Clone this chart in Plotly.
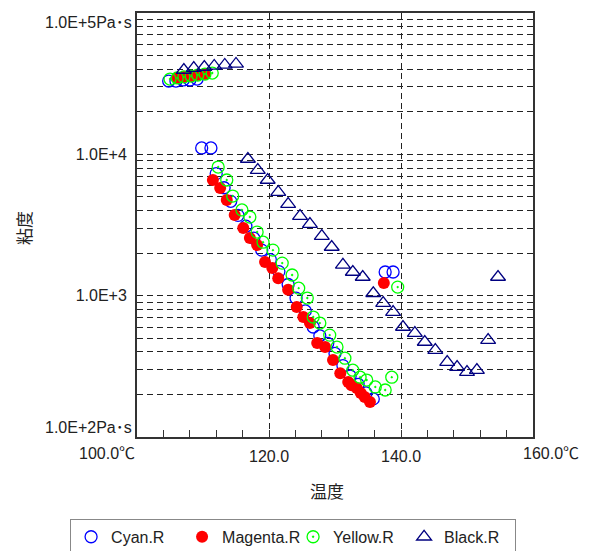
import plotly.graph_objects as go

# ---------------- data ----------------
cyan_t = [104.8, 105.9, 107.0, 108.0, 109.1, 109.8, 111.2,
          112.0, 113.2, 114.2, 115.3, 116.5, 117.7, 118.9, 120.2, 121.5, 122.9,
          124.1, 125.5, 126.7, 127.7, 128.9, 130.0, 131.2, 132.3, 133.5, 134.7,
          135.8, 137.6, 138.8]
cyan_v = [33000, 33000, 33600, 33600, 34100, 11100, 11100,
          7300, 5800, 4650, 3700, 3100, 2550, 2100, 1800, 1480, 1200,
          960, 780, 600, 520, 460, 390, 320, 270, 236, 205,
          186, 1470, 1470]

magenta_t = [106.1, 107.1, 108.2, 109.2, 110.3,
             111.5, 112.6, 113.6, 114.8, 116.1, 117.1, 118.2, 119.4, 120.5,
             121.4, 122.9, 124.2, 125.2, 126.2, 127.3, 128.5, 129.7, 130.8,
             132.0, 132.5, 133.3, 133.9, 134.5, 135.3, 137.4]
magenta_v = [34700, 35300, 35800, 36400, 37000,
             6580, 5780, 4750, 3720, 3010, 2560, 2280, 1730, 1570,
             1330, 1100, 830, 706, 640, 462, 433, 350, 283,
             245, 232, 222, 205, 192, 177, 1228]

yellow_t = [105.0, 106.1, 107.1, 108.2, 109.2, 110.3, 111.4,
            112.3, 113.6, 114.5, 115.9, 117.1, 118.2, 119.1, 120.6, 122.0,
            123.5, 124.5, 125.8, 126.7, 127.7, 129.2, 130.3, 131.5, 132.7,
            133.8, 134.8, 136.1, 137.6, 138.6, 139.5]
yellow_v = [34100, 34700, 35300, 35800, 36400, 37000, 37600,
            8130, 6580, 5070, 4040, 3600, 2820, 2390, 2100, 1700,
            1400, 1130, 962, 706, 640, 526, 433, 361, 297,
            265, 253, 226, 215, 265, 1150]

black_t = [107.1, 108.6, 110.2, 111.7, 113.3, 115.0,
           116.8, 118.3, 119.8, 121.4, 122.9, 124.7, 126.2, 128.0, 129.5,
           131.2, 132.7, 134.2, 135.8, 137.3, 138.8, 140.3, 142.1, 143.6,
           145.2, 147.0, 148.5, 150.0, 151.5, 153.2, 154.7]
black_v = [39500, 40800, 41500, 42200, 42900, 43600,
           9270, 7740, 6580, 5410, 4450, 3660, 3210, 2640, 2210,
           1650, 1470, 1355, 1040, 887, 766, 600, 544, 470,
           412, 339, 312, 288, 297, 485, 1355]

series_names = ["Cyan.R", "Magenta.R", "Yellow.R", "Black.R"]

x_tickvals = [100, 120, 140, 160]
x_ticktext = ["", "120.0", "140.0", ""]
x_end_labels = ["100.0℃", "160.0℃"]

y_grid_vals = [m * d for d in [100, 1000, 10000] for m in range(1, 10)] + [100000]
y_ticktext = ["1.0E+3" if v == 1000 else "1.0E+4" if v == 10000 else "" for v in y_grid_vals]
y_end_labels = ["1.0E+5Pa･s", "1.0E+2Pa･s"]

x_title = "温度"
y_title = "粘度"

# ---------------- figure ----------------
FONT = "Liberation Sans, Noto Sans CJK JP, sans-serif"
TXT = "#222222"

fig = go.Figure()
fig.add_trace(go.Scatter(
    x=cyan_t, y=cyan_v, mode="markers", name=series_names[0],
    marker=dict(symbol="circle-open", size=12, color="#0000FF", line=dict(width=1.3, color="#0000FF"))))
fig.add_trace(go.Scatter(
    x=magenta_t, y=magenta_v, mode="markers", name=series_names[1],
    marker=dict(symbol="circle", size=12, color="#FF0000", line=dict(width=0))))
fig.add_trace(go.Scatter(
    x=yellow_t, y=yellow_v, mode="markers", name=series_names[2],
    marker=dict(symbol="circle-open-dot", size=12, color="#00FF00", line=dict(width=1.3, color="#00FF00"))))
fig.add_trace(go.Scatter(
    x=black_t, y=black_v, mode="markers", name=series_names[3],
    marker=dict(symbol="triangle-up-open", size=13, color="#000080", line=dict(width=1.3, color="#000080"))))

# the page body adds an 8px offset, so the figure is 8px smaller and margins shifted
fig.update_layout(
    width=587, height=543,
    margin=dict(l=129, r=62, t=5, b=114, autoexpand=False),
    paper_bgcolor="white", plot_bgcolor="white",
    font=dict(family=FONT, size=16, color=TXT),
    showlegend=True,
    legend=dict(
        orientation="h", x=-0.169, y=-0.193, xanchor="left", yanchor="top",
        bgcolor="white", bordercolor="#888888", borderwidth=1,
        entrywidth=66, entrywidthmode="pixels", itemwidth=30,
        font=dict(family=FONT, size=16, color=TXT), tracegroupgap=0),
)

fig.update_xaxes(
    range=[100, 160], tickmode="array", tickvals=x_tickvals, ticktext=x_ticktext,
    showgrid=True, gridcolor="#222222", griddash="6px,4px", gridwidth=1.3,
    ticks="inside", ticklen=7, tickcolor="#333333", ticklabelstandoff=4,
    minor=dict(dtick=4, tick0=100, ticks="inside", ticklen=7, tickcolor="#333333", showgrid=False),
    showline=True, linecolor="#333333", linewidth=2, mirror=True, zeroline=False,
)
fig.update_yaxes(
    type="log", range=[2, 5], tickmode="array", tickvals=y_grid_vals, ticktext=y_ticktext,
    showgrid=True, gridcolor="#222222", griddash="6px,4px", gridwidth=1.3,
    ticks="", ticklabelstandoff=5,
    showline=True, linecolor="#333333", linewidth=2, mirror=True, zeroline=False,
)

annots = [
    dict(text=x_end_labels[0], xref="paper", yref="paper", x=0, y=0, xanchor="right", yanchor="top",
         xshift=0, yshift=-6, showarrow=False),
    dict(text=x_end_labels[1], xref="paper", yref="paper", x=1, y=0, xanchor="left", yanchor="top",
         xshift=-12, yshift=-6, showarrow=False),
    dict(text=y_end_labels[0], xref="paper", yref="paper", x=0, y=1, xanchor="right", yanchor="middle",
         xshift=-3, yshift=-9, showarrow=False),
    dict(text=y_end_labels[1], xref="paper", yref="paper", x=0, y=0, xanchor="right", yanchor="middle",
         xshift=-3, yshift=10, showarrow=False),
    dict(text=x_title, xref="paper", yref="paper", x=0.48, y=-0.132, xanchor="center", yanchor="middle",
         showarrow=False, font=dict(size=17)),
    dict(text=y_title, xref="paper", yref="paper", x=-0.283, y=0.5, xanchor="center", yanchor="middle",
         textangle=-90, yshift=-3, showarrow=False, font=dict(size=17)),
]
fig.update_layout(annotations=annots)

fig.write_html("out.html")
